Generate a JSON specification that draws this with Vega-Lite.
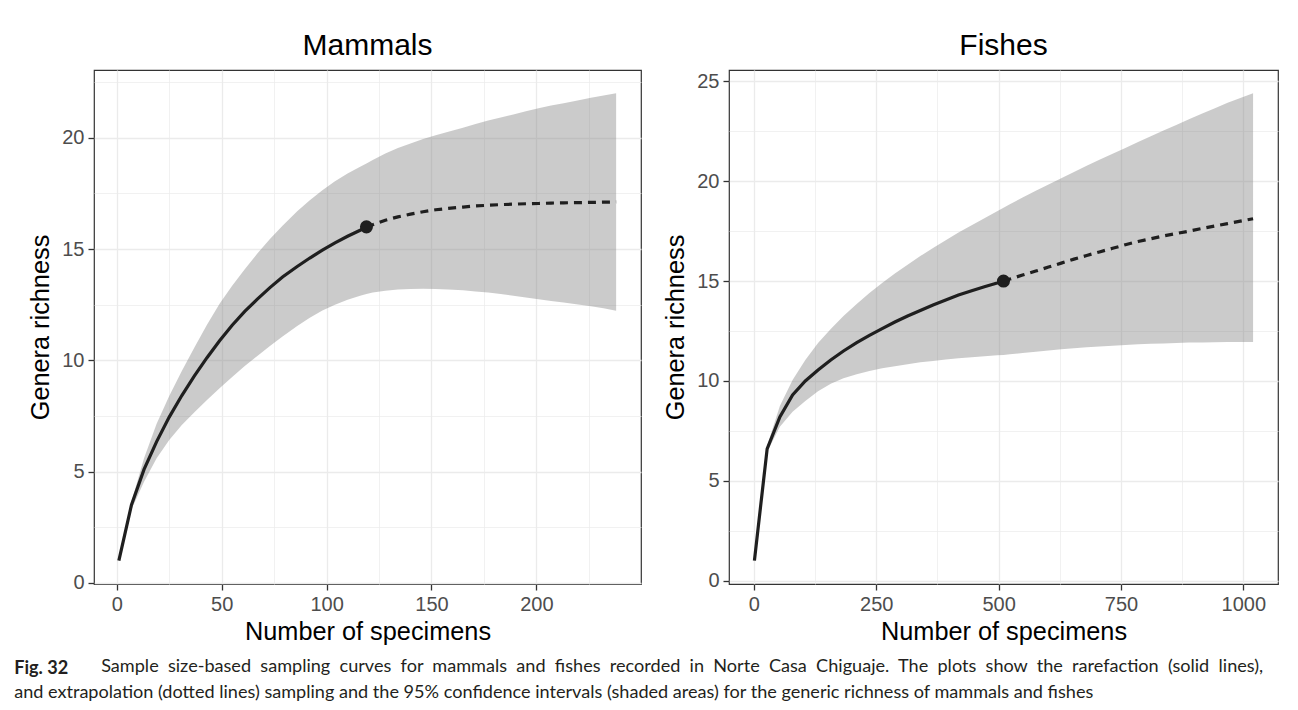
{
  "$schema": "https://vega.github.io/schema/vega-lite/v6.json",
  "background": "white",
  "padding": {"left": 14, "top": 30, "right": 5, "bottom": 5},
  "title": {
    "text": "Sample \u00a0size-based \u00a0sampling \u00a0curves \u00a0for \u00a0mammals \u00a0and \u00a0fishes \u00a0recorded \u00a0in \u00a0Norte \u00a0Casa \u00a0Chiguaje. \u00a0The \u00a0plots \u00a0show \u00a0the \u00a0rarefaction \u00a0(solid \u00a0lines),",
    "orient": "bottom",
    "anchor": "start",
    "frame": "bounds",
    "dx": 87,
    "offset": -44,
    "font": "Lato",
    "fontSize": 18.1,
    "fontWeight": "normal",
    "color": "#231F20"
  },
  "datasets": {
    "mammals": [
      {"x": 1, "y": 1.0, "lower": 1.0, "upper": 1.0, "method": "Rarefaction"},
      {"x": 7, "y": 3.5, "lower": 3.3, "upper": 3.65, "method": "Rarefaction"},
      {"x": 13, "y": 5.1, "lower": 4.55, "upper": 5.6, "method": "Rarefaction"},
      {"x": 19, "y": 6.35, "lower": 5.6, "upper": 7.15, "method": "Rarefaction"},
      {"x": 25, "y": 7.45, "lower": 6.42, "upper": 8.4, "method": "Rarefaction"},
      {"x": 31, "y": 8.42, "lower": 7.1, "upper": 9.52, "method": "Rarefaction"},
      {"x": 37, "y": 9.3, "lower": 7.67, "upper": 10.58, "method": "Rarefaction"},
      {"x": 43, "y": 10.12, "lower": 8.22, "upper": 11.6, "method": "Rarefaction"},
      {"x": 49, "y": 10.88, "lower": 8.75, "upper": 12.55, "method": "Rarefaction"},
      {"x": 55, "y": 11.58, "lower": 9.25, "upper": 13.35, "method": "Rarefaction"},
      {"x": 61, "y": 12.2, "lower": 9.75, "upper": 14.1, "method": "Rarefaction"},
      {"x": 67, "y": 12.75, "lower": 10.2, "upper": 14.8, "method": "Rarefaction"},
      {"x": 73, "y": 13.27, "lower": 10.65, "upper": 15.45, "method": "Rarefaction"},
      {"x": 79, "y": 13.75, "lower": 11.07, "upper": 16.05, "method": "Rarefaction"},
      {"x": 86, "y": 14.22, "lower": 11.55, "upper": 16.7, "method": "Rarefaction"},
      {"x": 92, "y": 14.6, "lower": 11.92, "upper": 17.2, "method": "Rarefaction"},
      {"x": 98, "y": 14.95, "lower": 12.24, "upper": 17.65, "method": "Rarefaction"},
      {"x": 104, "y": 15.28, "lower": 12.5, "upper": 18.05, "method": "Rarefaction"},
      {"x": 110, "y": 15.58, "lower": 12.72, "upper": 18.4, "method": "Rarefaction"},
      {"x": 116, "y": 15.85, "lower": 12.9, "upper": 18.7, "method": "Rarefaction"},
      {"x": 119, "y": 16.0, "lower": 12.98, "upper": 18.85, "method": "Observed"},
      {"x": 122, "y": 16.1, "lower": 13.05, "upper": 19.0, "method": "Extrapolation"},
      {"x": 128, "y": 16.3, "lower": 13.13, "upper": 19.3, "method": "Extrapolation"},
      {"x": 134, "y": 16.45, "lower": 13.18, "upper": 19.55, "method": "Extrapolation"},
      {"x": 140, "y": 16.57, "lower": 13.21, "upper": 19.75, "method": "Extrapolation"},
      {"x": 146, "y": 16.68, "lower": 13.22, "upper": 19.95, "method": "Extrapolation"},
      {"x": 152, "y": 16.77, "lower": 13.21, "upper": 20.12, "method": "Extrapolation"},
      {"x": 158, "y": 16.83, "lower": 13.18, "upper": 20.28, "method": "Extrapolation"},
      {"x": 165, "y": 16.89, "lower": 13.15, "upper": 20.45, "method": "Extrapolation"},
      {"x": 171, "y": 16.94, "lower": 13.1, "upper": 20.62, "method": "Extrapolation"},
      {"x": 177, "y": 16.97, "lower": 13.05, "upper": 20.78, "method": "Extrapolation"},
      {"x": 183, "y": 17.0, "lower": 12.98, "upper": 20.92, "method": "Extrapolation"},
      {"x": 189, "y": 17.02, "lower": 12.91, "upper": 21.05, "method": "Extrapolation"},
      {"x": 195, "y": 17.04, "lower": 12.83, "upper": 21.2, "method": "Extrapolation"},
      {"x": 201, "y": 17.05, "lower": 12.75, "upper": 21.33, "method": "Extrapolation"},
      {"x": 207, "y": 17.07, "lower": 12.67, "upper": 21.45, "method": "Extrapolation"},
      {"x": 213, "y": 17.08, "lower": 12.6, "upper": 21.56, "method": "Extrapolation"},
      {"x": 219, "y": 17.09, "lower": 12.52, "upper": 21.67, "method": "Extrapolation"},
      {"x": 226, "y": 17.1, "lower": 12.43, "upper": 21.8, "method": "Extrapolation"},
      {"x": 232, "y": 17.11, "lower": 12.34, "upper": 21.9, "method": "Extrapolation"},
      {"x": 238, "y": 17.12, "lower": 12.23, "upper": 22.0, "method": "Extrapolation"}
    ],
    "fishes": [
      {"x": 1, "y": 1.0, "lower": 1.0, "upper": 1.0, "method": "Rarefaction"},
      {"x": 27, "y": 6.6, "lower": 6.45, "upper": 6.75, "method": "Rarefaction"},
      {"x": 53, "y": 8.2, "lower": 7.7, "upper": 8.75, "method": "Rarefaction"},
      {"x": 79, "y": 9.3, "lower": 8.45, "upper": 10.05, "method": "Rarefaction"},
      {"x": 105, "y": 10.0, "lower": 9.0, "upper": 11.05, "method": "Rarefaction"},
      {"x": 131, "y": 10.55, "lower": 9.48, "upper": 11.9, "method": "Rarefaction"},
      {"x": 157, "y": 11.05, "lower": 9.86, "upper": 12.6, "method": "Rarefaction"},
      {"x": 183, "y": 11.5, "lower": 10.13, "upper": 13.25, "method": "Rarefaction"},
      {"x": 210, "y": 11.92, "lower": 10.34, "upper": 13.85, "method": "Rarefaction"},
      {"x": 236, "y": 12.28, "lower": 10.5, "upper": 14.4, "method": "Rarefaction"},
      {"x": 262, "y": 12.62, "lower": 10.63, "upper": 14.9, "method": "Rarefaction"},
      {"x": 288, "y": 12.95, "lower": 10.74, "upper": 15.38, "method": "Rarefaction"},
      {"x": 314, "y": 13.25, "lower": 10.84, "upper": 15.82, "method": "Rarefaction"},
      {"x": 340, "y": 13.53, "lower": 10.93, "upper": 16.25, "method": "Rarefaction"},
      {"x": 366, "y": 13.8, "lower": 11.0, "upper": 16.65, "method": "Rarefaction"},
      {"x": 392, "y": 14.05, "lower": 11.07, "upper": 17.05, "method": "Rarefaction"},
      {"x": 418, "y": 14.3, "lower": 11.13, "upper": 17.43, "method": "Rarefaction"},
      {"x": 445, "y": 14.52, "lower": 11.19, "upper": 17.8, "method": "Rarefaction"},
      {"x": 471, "y": 14.72, "lower": 11.24, "upper": 18.15, "method": "Rarefaction"},
      {"x": 497, "y": 14.9, "lower": 11.28, "upper": 18.5, "method": "Rarefaction"},
      {"x": 510, "y": 15.0, "lower": 11.3, "upper": 18.67, "method": "Observed"},
      {"x": 523, "y": 15.1, "lower": 11.33, "upper": 18.85, "method": "Extrapolation"},
      {"x": 549, "y": 15.3, "lower": 11.4, "upper": 19.18, "method": "Extrapolation"},
      {"x": 576, "y": 15.5, "lower": 11.46, "upper": 19.52, "method": "Extrapolation"},
      {"x": 602, "y": 15.7, "lower": 11.52, "upper": 19.84, "method": "Extrapolation"},
      {"x": 628, "y": 15.9, "lower": 11.58, "upper": 20.15, "method": "Extrapolation"},
      {"x": 654, "y": 16.1, "lower": 11.63, "upper": 20.46, "method": "Extrapolation"},
      {"x": 680, "y": 16.28, "lower": 11.68, "upper": 20.77, "method": "Extrapolation"},
      {"x": 706, "y": 16.46, "lower": 11.72, "upper": 21.07, "method": "Extrapolation"},
      {"x": 733, "y": 16.64, "lower": 11.76, "upper": 21.37, "method": "Extrapolation"},
      {"x": 759, "y": 16.82, "lower": 11.8, "upper": 21.67, "method": "Extrapolation"},
      {"x": 785, "y": 16.98, "lower": 11.83, "upper": 21.96, "method": "Extrapolation"},
      {"x": 811, "y": 17.12, "lower": 11.86, "upper": 22.25, "method": "Extrapolation"},
      {"x": 837, "y": 17.26, "lower": 11.88, "upper": 22.54, "method": "Extrapolation"},
      {"x": 863, "y": 17.38, "lower": 11.9, "upper": 22.82, "method": "Extrapolation"},
      {"x": 889, "y": 17.5, "lower": 11.92, "upper": 23.1, "method": "Extrapolation"},
      {"x": 915, "y": 17.63, "lower": 11.93, "upper": 23.38, "method": "Extrapolation"},
      {"x": 942, "y": 17.76, "lower": 11.94, "upper": 23.66, "method": "Extrapolation"},
      {"x": 968, "y": 17.88, "lower": 11.95, "upper": 23.93, "method": "Extrapolation"},
      {"x": 994, "y": 18.0, "lower": 11.95, "upper": 24.17, "method": "Extrapolation"},
      {"x": 1020, "y": 18.12, "lower": 11.95, "upper": 24.4, "method": "Extrapolation"}
    ]
  },
  "vconcat": [
    {
      "title": {
        "text": "Fig. 32",
        "subtitle": "and extrapolation (dotted lines) sampling and the 95% confidence intervals (shaded areas) for the generic richness of mammals and fishes",
        "orient": "bottom",
        "anchor": "start",
        "frame": "bounds",
        "dx": -14,
        "offset": 15,
        "font": "Lato",
        "fontSize": 18.1,
        "fontWeight": "bold",
        "color": "#231F20",
        "subtitleFont": "Lato",
        "subtitleFontSize": 18.1,
        "subtitleFontWeight": "normal",
        "subtitleColor": "#231F20",
        "subtitlePadding": 6
      },
      "spacing": 21,
      "hconcat": [
        {
          "title": {"text": "Mammals", "frame": "group", "anchor": "middle", "offset": 9},
          "width": 547,
          "height": 514,
          "data": {"name": "mammals"},
          "layer": [
            {
              "mark": {"type": "area", "color": "#7d7d7d", "opacity": 0.4},
              "encoding": {
                "x": {"field": "x", "type": "quantitative", "scale": {"domain": [-10.85, 249.85], "nice": false, "zero": false},
                  "axis": {"title": "Number of specimens", "values": [0, 25, 50, 75, 100, 125, 150, 175, 200, 225],
                    "labelExpr": "datum.value % 50 === 0 ? datum.label : ''",
                    "tickOpacity": {"condition": {"test": "datum.value % 50 === 0", "value": 1}, "value": 0},
                    "gridWidth": {"condition": {"test": "datum.value % 50 === 0", "value": 1.3}, "value": 0.7}}},
                "y": {"field": "lower", "type": "quantitative", "scale": {"domain": [-0.05, 23.05], "nice": false, "zero": false},
                  "axis": {"title": "Genera richness", "values": [0, 2.5, 5, 7.5, 10, 12.5, 15, 17.5, 20, 22.5],
                    "labelExpr": "datum.value % 5 === 0 ? datum.label : ''",
                    "tickOpacity": {"condition": {"test": "datum.value % 5 === 0", "value": 1}, "value": 0},
                    "gridWidth": {"condition": {"test": "datum.value % 5 === 0", "value": 1.3}, "value": 0.7}}},
                "y2": {"field": "upper"}
              }
            },
            {
              "transform": [{"filter": "datum.method !== 'Extrapolation'"}],
              "mark": {"type": "line", "color": "#1f1f1f", "strokeWidth": 3.2},
              "encoding": {
                "x": {"field": "x", "type": "quantitative", "scale": {"domain": [-10.85, 249.85], "nice": false, "zero": false}, "title": "Number of specimens"},
                "y": {"field": "y", "type": "quantitative", "scale": {"domain": [-0.05, 23.05], "nice": false, "zero": false}, "title": "Genera richness"}
              }
            },
            {
              "transform": [{"filter": "datum.method !== 'Rarefaction'"}],
              "mark": {"type": "line", "color": "#1f1f1f", "strokeWidth": 3.2, "strokeDash": [8, 6]},
              "encoding": {
                "x": {"field": "x", "type": "quantitative", "scale": {"domain": [-10.85, 249.85], "nice": false, "zero": false}, "title": "Number of specimens"},
                "y": {"field": "y", "type": "quantitative", "scale": {"domain": [-0.05, 23.05], "nice": false, "zero": false}, "title": "Genera richness"}
              }
            },
            {
              "transform": [{"filter": "datum.method === 'Observed'"}],
              "mark": {"type": "point", "filled": true, "size": 170, "color": "#1f1f1f", "opacity": 1},
              "encoding": {
                "x": {"field": "x", "type": "quantitative", "scale": {"domain": [-10.85, 249.85], "nice": false, "zero": false}, "title": "Number of specimens"},
                "y": {"field": "y", "type": "quantitative", "scale": {"domain": [-0.05, 23.05], "nice": false, "zero": false}, "title": "Genera richness"}
              }
            }
          ]
        },
        {
          "title": {"text": "Fishes", "frame": "group", "anchor": "middle", "offset": 9},
          "width": 549,
          "height": 514,
          "data": {"name": "fishes"},
          "layer": [
            {
              "mark": {"type": "area", "color": "#7d7d7d", "opacity": 0.4},
              "encoding": {
                "x": {"field": "x", "type": "quantitative", "scale": {"domain": [-50.95, 1070.95], "nice": false, "zero": false},
                  "axis": {"title": "Number of specimens", "values": [0, 125, 250, 375, 500, 625, 750, 875, 1000],
                    "labelExpr": "datum.value % 250 === 0 ? format(datum.value, 'd') : ''",
                    "tickOpacity": {"condition": {"test": "datum.value % 250 === 0", "value": 1}, "value": 0},
                    "gridWidth": {"condition": {"test": "datum.value % 250 === 0", "value": 1.3}, "value": 0.7}}},
                "y": {"field": "lower", "type": "quantitative", "scale": {"domain": [-0.17, 25.57], "nice": false, "zero": false},
                  "axis": {"title": "Genera richness", "values": [0, 2.5, 5, 7.5, 10, 12.5, 15, 17.5, 20, 22.5, 25],
                    "labelExpr": "datum.value % 5 === 0 ? datum.label : ''",
                    "tickOpacity": {"condition": {"test": "datum.value % 5 === 0", "value": 1}, "value": 0},
                    "gridWidth": {"condition": {"test": "datum.value % 5 === 0", "value": 1.3}, "value": 0.7}}},
                "y2": {"field": "upper"}
              }
            },
            {
              "transform": [{"filter": "datum.method !== 'Extrapolation'"}],
              "mark": {"type": "line", "color": "#1f1f1f", "strokeWidth": 3.2},
              "encoding": {
                "x": {"field": "x", "type": "quantitative", "scale": {"domain": [-50.95, 1070.95], "nice": false, "zero": false}, "title": "Number of specimens"},
                "y": {"field": "y", "type": "quantitative", "scale": {"domain": [-0.17, 25.57], "nice": false, "zero": false}, "title": "Genera richness"}
              }
            },
            {
              "transform": [{"filter": "datum.method !== 'Rarefaction'"}],
              "mark": {"type": "line", "color": "#1f1f1f", "strokeWidth": 3.2, "strokeDash": [8, 6]},
              "encoding": {
                "x": {"field": "x", "type": "quantitative", "scale": {"domain": [-50.95, 1070.95], "nice": false, "zero": false}, "title": "Number of specimens"},
                "y": {"field": "y", "type": "quantitative", "scale": {"domain": [-0.17, 25.57], "nice": false, "zero": false}, "title": "Genera richness"}
              }
            },
            {
              "transform": [{"filter": "datum.method === 'Observed'"}],
              "mark": {"type": "point", "filled": true, "size": 170, "color": "#1f1f1f", "opacity": 1},
              "encoding": {
                "x": {"field": "x", "type": "quantitative", "scale": {"domain": [-50.95, 1070.95], "nice": false, "zero": false}, "title": "Number of specimens"},
                "y": {"field": "y", "type": "quantitative", "scale": {"domain": [-0.17, 25.57], "nice": false, "zero": false}, "title": "Genera richness"}
              }
            }
          ]
        }
      ]
    }
  ],
  "config": {
    "view": {"stroke": "#333333", "strokeWidth": 1.2},
    "axis": {
      "domain": false,
      "grid": true,
      "gridColor": "#EBEBEB",
      "tickColor": "#333333",
      "tickWidth": 1.3,
      "tickSize": 6,
      "labelFont": "Liberation Sans",
      "labelFontSize": 20,
      "labelColor": "#4D4D4D",
      "labelPadding": 4,
      "titleFont": "Liberation Sans",
      "titleFontSize": 25.3,
      "titleFontWeight": "normal",
      "titleColor": "#000000",
      "titlePadding": 5
    },
    "axisY": {"titlePadding": 8},
    "title": {"font": "Liberation Sans", "fontSize": 30, "fontWeight": "normal", "color": "#000000"}
  }
}
